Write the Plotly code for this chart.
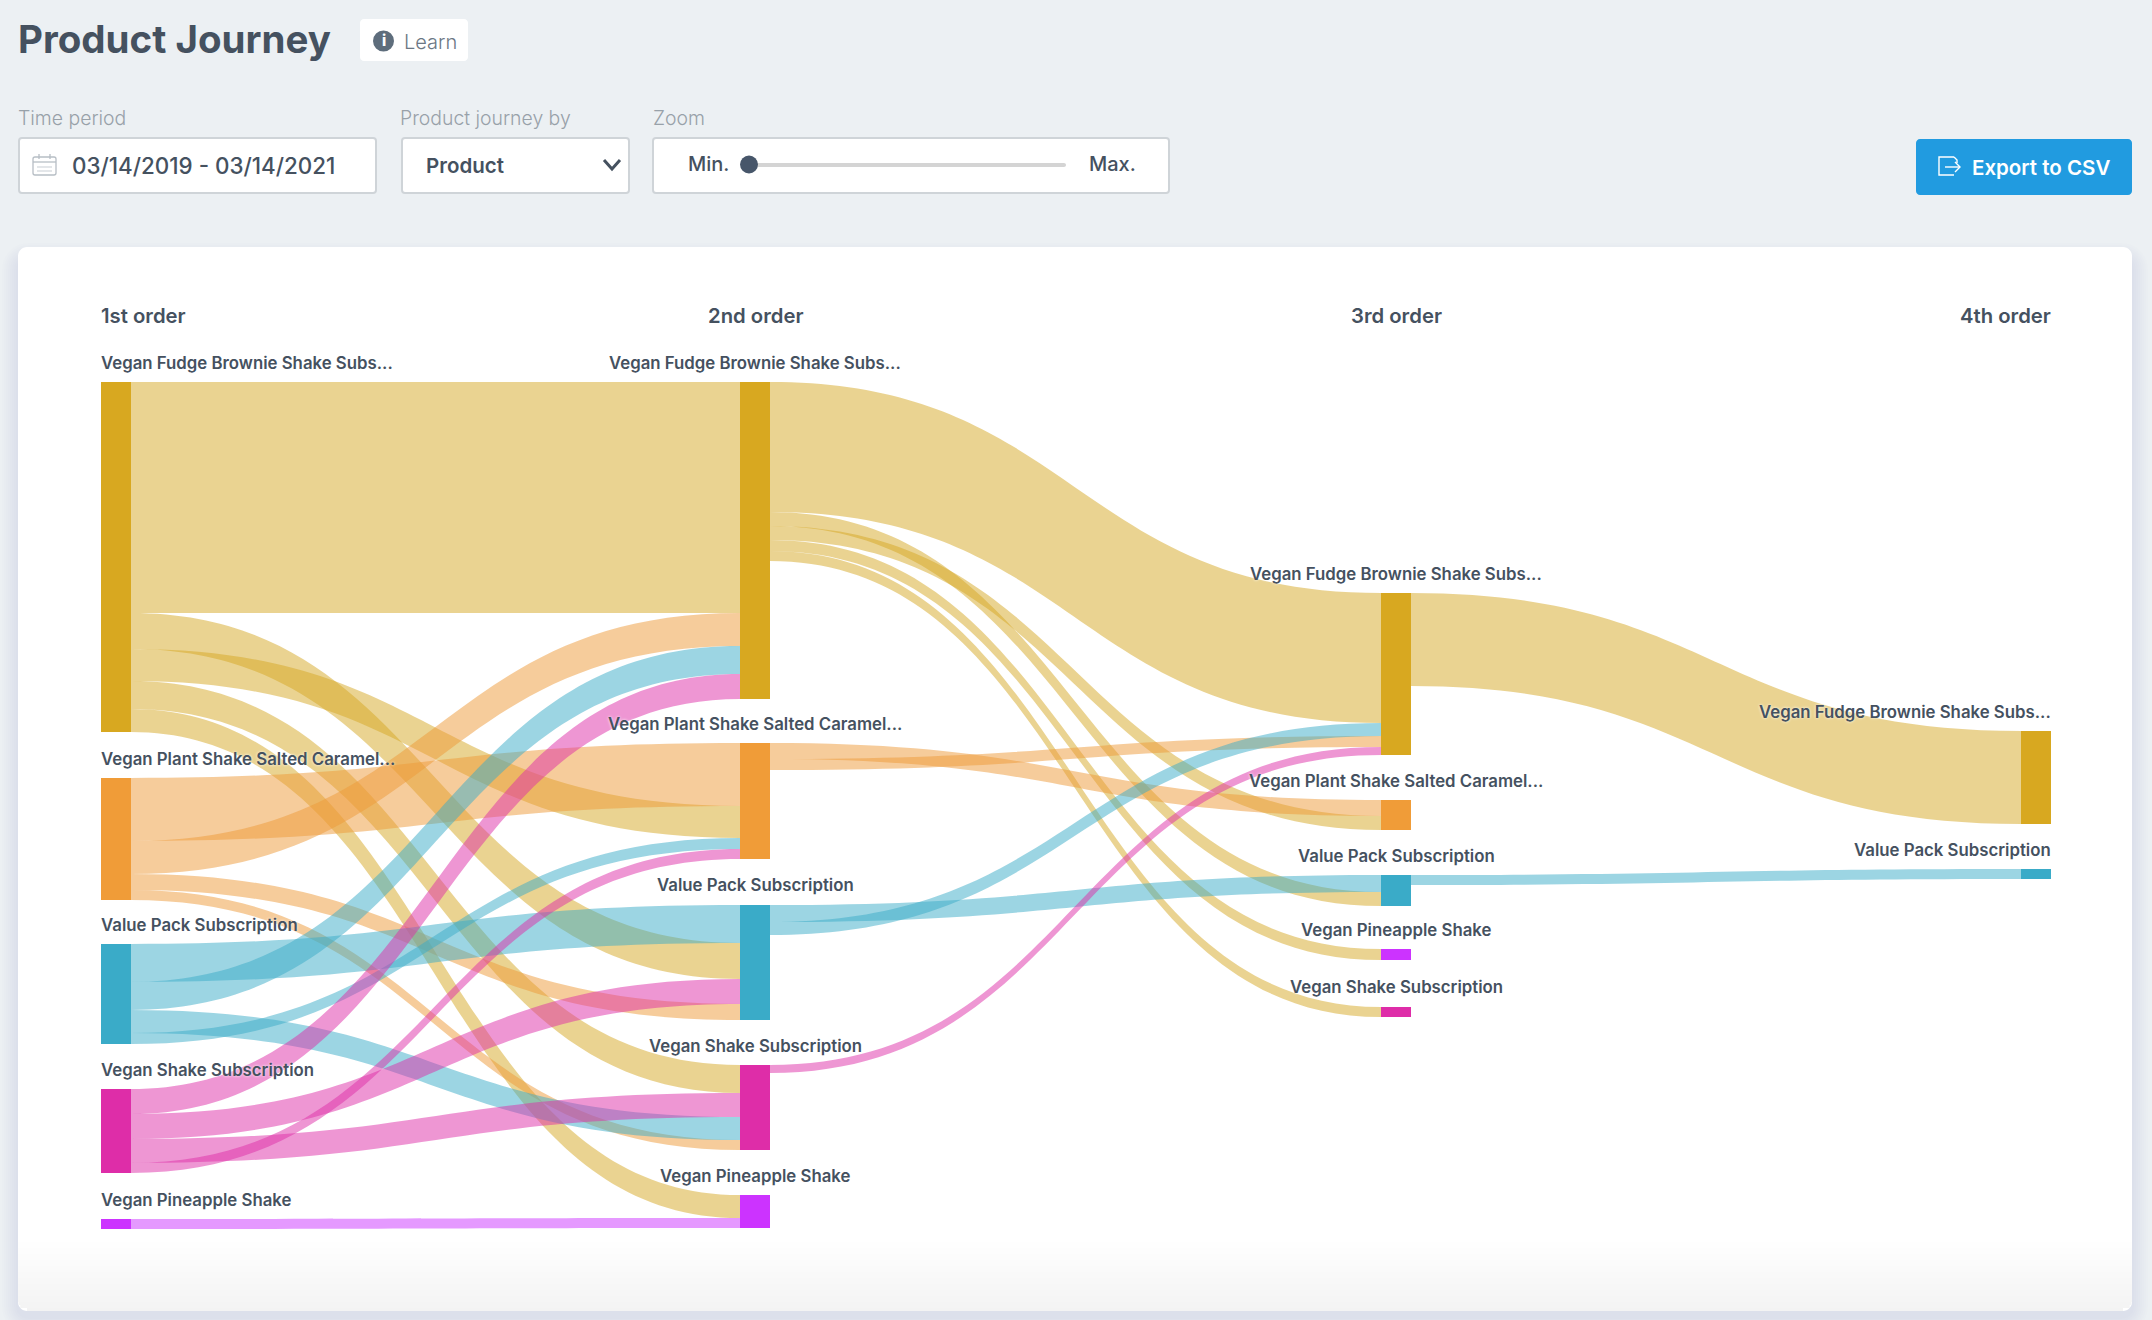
import math
import plotly.graph_objects as go

W, H_FIG = 2152, 1320

# ---------- data ----------
products = ["Vegan Fudge Brownie Shake Subs...", "Vegan Plant Shake Salted Caramel...",
            "Value Pack Subscription", "Vegan Shake Subscription", "Vegan Pineapple Shake"]
stage_titles = ["1st order", "2nd order", "3rd order", "4th order"]

stage1_source = [0, 0, 0, 0, 0, 1, 1, 1, 1, 2, 2, 2, 2, 3, 3, 3, 3, 4]
stage1_target = [0, 2, 1, 3, 4, 1, 0, 2, 3, 2, 0, 3, 1, 0, 2, 3, 1, 4]
stage1_value = [231, 36, 32, 28, 23, 63, 33, 16, 10, 38, 28, 23, 11, 25, 25, 24, 10, 10]

stage2_source = [0, 0, 0, 0, 0, 1, 1, 2, 2, 3]
stage2_target = [0, 2, 1, 4, 3, 1, 0, 2, 0, 0]
stage2_value = [130, 14, 14, 11, 10, 16, 11, 17, 13, 8]

stage3_source = [0, 2]
stage3_target = [0, 2]
stage3_value = [93, 10]

# ---------- layout constants (pixels) ----------
col_center = [116, 755, 1396, 2036]
col_tops = [
    {0: 382, 1: 778, 2: 944, 3: 1089, 4: 1219},
    {0: 382, 1: 743, 2: 905, 3: 1065, 4: 1195},
    {0: 593, 1: 800, 2: 875, 4: 949, 3: 1007},
    {0: 731, 2: 869},
]
node_colors = ["#D8A820", "#F09C38", "#3AABC8", "#DE2DA8", "#CC33FF"]
link_colors = ["rgba(214,168,35,0.5)", "rgba(238,154,55,0.5)", "rgba(58,171,200,0.5)",
               "rgba(222,45,168,0.5)", "rgba(204,51,255,0.5)"]
INK = "#45515F"
GREY = "#98A1A9"
LABEL_FONT = "Inter"

stages = [(stage1_source, stage1_target, stage1_value),
          (stage2_source, stage2_target, stage2_value),
          (stage3_source, stage3_target, stage3_value)]

TOTAL = sum(sum(s[2]) for s in stages)
PLOT_TOP = 300           # top of the Sankey domain in pixels
dom = [1 - (PLOT_TOP + TOTAL) / H_FIG, 1 - PLOT_TOP / H_FIG]

# ribbons leave and enter each bar ordered by descending value: every ribbon
# end gets its own bar segment so the order is kept
nx, ny, ncol, lsrc, ltgt, lval, lcol = [], [], [], [], [], [], []


def add_node(col, cat, start, size):
    nx.append(col_center[col] / W)
    ny.append((start + size / 2 - PLOT_TOP) / TOTAL)
    ncol.append(node_colors[cat])
    return len(nx) - 1


for i, (src, tgt, val) in enumerate(stages):
    out_off = {c: 0 for c in col_tops[i]}
    in_off = {c: 0 for c in col_tops[i + 1]}
    starts = {}
    for k in sorted(range(len(val)), key=lambda k: -val[k]):
        starts[k] = (out_off[src[k]], in_off[tgt[k]])
        out_off[src[k]] += val[k]
        in_off[tgt[k]] += val[k]
    for k in range(len(val)):
        a = add_node(i, src[k], col_tops[i][src[k]] + starts[k][0], val[k])
        b = add_node(i + 1, tgt[k], col_tops[i + 1][tgt[k]] + starts[k][1], val[k])
        lsrc.append(a)
        ltgt.append(b)
        lval.append(val[k])
        lcol.append(link_colors[src[k]])

fig = go.Figure(go.Sankey(
    arrangement="fixed",
    domain=dict(x=[0, 1], y=dom),
    node=dict(label=[""] * len(nx), x=nx, y=ny, color=ncol, pad=0, thickness=30,
              line=dict(width=0), hoverinfo="skip"),
    link=dict(source=lsrc, target=ltgt, value=lval, color=lcol, hoverinfo="skip"),
))

# ---------- helpers ----------
shapes, notes = [], []
px = lambda x: x / W
py = lambda y: 1 - y / H_FIG


def rrect(x0, y0, x1, y1, r, fill, line=None, lw=0, layer="below"):
    k = r * 0.45
    p = (f"M {px(x0 + r)} {py(y0)} L {px(x1 - r)} {py(y0)} "
         f"C {px(x1 - k)} {py(y0)} {px(x1)} {py(y0 + k)} {px(x1)} {py(y0 + r)} "
         f"L {px(x1)} {py(y1 - r)} "
         f"C {px(x1)} {py(y1 - k)} {px(x1 - k)} {py(y1)} {px(x1 - r)} {py(y1)} "
         f"L {px(x0 + r)} {py(y1)} "
         f"C {px(x0 + k)} {py(y1)} {px(x0)} {py(y1 - k)} {px(x0)} {py(y1 - r)} "
         f"L {px(x0)} {py(y0 + r)} "
         f"C {px(x0)} {py(y0 + k)} {px(x0 + k)} {py(y0)} {px(x0 + r)} {py(y0)} Z")
    shapes.append(dict(type="path", path=p, xref="paper", yref="paper", fillcolor=fill,
                       line=dict(color=line or fill, width=lw), layer=layer))


def stroke(points, color, width):
    p = "M " + " L ".join(f"{px(x)} {py(y)}" for x, y in points)
    shapes.append(dict(type="path", path=p, xref="paper", yref="paper",
                       line=dict(color=color, width=width), layer="below"))


def circle(cx, cy, r, fill):
    shapes.append(dict(type="circle", xref="paper", yref="paper", x0=px(cx - r), x1=px(cx + r),
                       y0=py(cy + r), y1=py(cy - r), fillcolor=fill, line=dict(width=0), layer="below"))


def text(s, x, y, size, color=INK, anchor="left", weight=400, family="Inter", shadow=None):
    font = dict(family=family, size=size, color=color, weight=weight)
    if shadow:
        font["shadow"] = shadow
    notes.append(dict(text=s, x=px(x), y=py(y), xref="paper", yref="paper", showarrow=False,
                      xanchor=anchor, yanchor="middle", borderpad=0, borderwidth=0, font=font))


# ---------- card ----------
CX0, CX1, CY0, CY1 = 18, 2132, 247, 1311
for i in range(1, 9):
    rrect(CX0 - i * 2, CY0 - i * 2 + 12, CX1 + i * 2, CY1 + i * 2 + 6, 10 + i * 2, "rgba(50,60,70,0.009)")
rrect(CX0, CY0, CX1, CY1, 9, "#FFFFFF")
GRAD_TOP = 1236
for y in range(GRAD_TOP, CY1, 3):
    t = (y - GRAD_TOP) / (CY1 - GRAD_TOP)
    v = round(255 - 12 * t)
    dy = max(0, y + 3 - (CY1 - 9))
    inset = 9 - math.sqrt(max(0, 81 - dy * dy)) if dy else 0
    shapes.append(dict(type="rect", xref="paper", yref="paper", x0=px(CX0 + inset), x1=px(CX1 - inset),
                       y0=py(min(y + 3, CY1)), y1=py(y), fillcolor=f"rgb({v},{v},{v})",
                       line=dict(width=0), layer="below"))

# ---------- header ----------
text("Product Journey", 18, 39, 38.5, INK, weight=700)
rrect(360, 19, 468, 61, 4, "#FFFFFF")
circle(383.5, 41, 10.5, "#5E6D7C")
text("i", 383.5, 41, 15, "#FFFFFF", "center", 800)
text("Learn", 404, 42, 20, "#6B7784", weight=300)

text("Time period", 18, 118, 19.4, GREY, weight=300)
text("Product journey by", 400, 118, 19.4, GREY, weight=300)
text("Zoom", 653, 118, 19.4, GREY, weight=300)

rrect(19, 138, 376, 193, 3, "#FFFFFF", "#CFD4D8", 2)
rrect(402, 138, 629, 193, 3, "#FFFFFF", "#CFD4D8", 2)
rrect(653, 138, 1169, 193, 3, "#FFFFFF", "#CFD4D8", 2)

# calendar icon
rrect(33, 157, 56, 175, 2, "#FFFFFF", "#B7BEC5", 1.3)
stroke([(33, 162), (56, 162)], "#B7BEC5", 1.3)
stroke([(39, 154), (39, 159)], "#B7BEC5", 1.3)
stroke([(50, 154), (50, 159)], "#B7BEC5", 1.3)
for yy in (167, 171):
    stroke([(37, yy), (52, yy)], "#D0D5DA", 1.2)

text("03/14/2019 - 03/14/2021", 72, 165, 22.4, INK, weight=500)
text("Product", 426, 166, 20.5, INK, weight=600)
stroke([(604, 160), (612, 169), (620, 160)], INK, 3)

text("Min.", 688, 164, 20, INK, weight=500)
text("Max.", 1089, 164, 20, INK, weight=500)
rrect(749, 163, 1066, 167, 2, "#D4D4D4")
circle(749, 164.5, 9, "#47566A")

rrect(1916, 139, 2132, 195, 4, "#219BE0")
stroke([(1954, 157), (1939, 157), (1939, 175), (1954, 175)], "#FFFFFF", 1.4)
stroke([(1954, 157), (1957, 160), (1957, 163)], "#FFFFFF", 1.4)
stroke([(1945, 167), (1960, 167)], "#FFFFFF", 1.4)
stroke([(1955, 162), (1960, 167), (1955, 172)], "#FFFFFF", 1.4)
text("Export to CSV", 1972, 168, 20.5, "#FFFFFF", weight=600)

# ---------- column titles and node labels ----------
anchors = ["left", "center", "center", "right"]
anchor_x = [101, 755, 1396, 2051]
for c, title in enumerate(stage_titles):
    text(title, anchor_x[c], 315, 20.3, INK, anchors[c], 600, LABEL_FONT)
    for cat, top in col_tops[c].items():
        text(products[cat], anchor_x[c], top - 19.5, 16.8, INK, anchors[c], 600, LABEL_FONT,
             shadow="0 0 3px #FFFFFF")

fig.update_layout(width=W, height=H_FIG, autosize=False, margin=dict(l=0, r=0, t=0, b=0, pad=0),
                  paper_bgcolor="#ECF0F3", plot_bgcolor="#ECF0F3", showlegend=False,
                  shapes=shapes, annotations=notes)
fig.write_html("out.html", config=dict(displayModeBar=False, responsive=False),
               post_script="document.body.style.margin='0';document.body.style.background='#ECF0F3';")
